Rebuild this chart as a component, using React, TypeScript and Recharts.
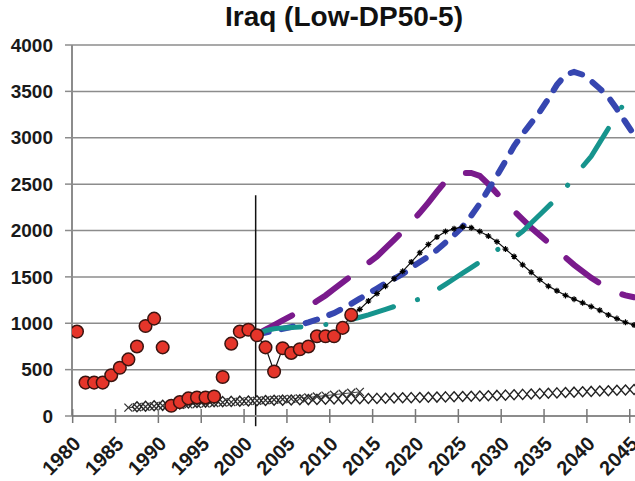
import React from 'react';
import { LineChart, Line, XAxis, YAxis, CartesianGrid, ReferenceLine } from 'recharts';

const years = [
  1980, 1981, 1982, 1983, 1984, 1985, 1986, 1987, 1988, 1989, 1990, 1991, 1992, 1993, 1994, 1995,
  1996, 1997, 1998, 1999, 2000, 2001, 2002, 2003, 2004, 2005, 2006, 2007, 2008, 2009, 2010, 2011,
  2012, 2013, 2014, 2015, 2016, 2017, 2018, 2019, 2020, 2021, 2022, 2023, 2024, 2025, 2026, 2027,
  2028, 2029, 2030, 2031, 2032, 2033, 2034, 2035, 2036, 2037, 2038, 2039, 2040, 2041, 2042, 2043,
  2044, 2045,
];
const xTicks = [1980, 1985, 1990, 1995, 2000, 2005, 2010, 2015, 2020, 2025, 2030, 2035, 2040, 2045];
const yTicks = [0, 500, 1000, 1500, 2000, 2500, 3000, 3500, 4000];

// red dots, 1980-2012
const actualStart = 1980;
const actual = [910, 360, 360, 360, 440, 520, 610, 750, 970, 1050, 740, 110, 150, 190, 200, 200, 210,
  420, 780, 910, 930, 870, 740, 480, 730, 680, 720, 750, 860, 860, 860, 950, 1090];

// black line with small markers, 2001-2045
const baseStart = 2001;
const base = [870, 740, 480, 730, 680, 720, 750, 860, 860, 860, 950, 1090,
  1150, 1240, 1320, 1400, 1480, 1560, 1660, 1760, 1850, 1930, 1990, 2020, 2040, 2030, 1990, 1940,
  1880, 1800, 1720, 1630, 1550, 1470, 1400, 1350, 1300, 1260, 1220, 1180, 1140, 1090, 1050, 1010, 980];

// blue short dash, 2001-2045
const blueStart = 2001;
const blue = [880, 900, 920, 940, 960, 985, 1010, 1040, 1075, 1110, 1160, 1210, 1265, 1320, 1375,
  1430, 1480, 1530, 1600, 1660, 1720, 1790, 1870, 1950, 2040, 2160, 2290, 2440, 2590, 2750, 2910,
  3040, 3160, 3280, 3420, 3570, 3680, 3710, 3680, 3610, 3530, 3440, 3310, 3170, 3030];

// purple long dash, 2001-2045
const purpleStart = 2001;
const purple = [880, 930, 980, 1030, 1080, 1130, 1180, 1240, 1300, 1370, 1440, 1510, 1580, 1650,
  1720, 1810, 1900, 1990, 2090, 2190, 2300, 2420, 2530, 2600, 2620, 2620, 2590, 2500, 2400, 2300,
  2210, 2120, 2030, 1950, 1870, 1790, 1710, 1630, 1560, 1490, 1430, 1380, 1330, 1300, 1280];

// teal dash-dot, 2001-2045
const tealStart = 2001;
const teal = [880, 920, 940, 950, 955, 960, 965, 975, 985, 1000, 1020, 1040, 1065, 1090, 1120, 1150,
  1180, 1210, 1240, 1260, 1300, 1360, 1420, 1480, 1540, 1600, 1660, 1720, 1790, 1850, 1920, 1990,
  2080, 2170, 2260, 2350, 2460, 2570, 2690, 2800, 2950, 3100, 3240, 3400, 3520];

// open diamonds, 1987-2045
const diamondStart = 1987;
const diamonds = [100, 105, 110, 115, 120, 130, 140, 145, 150, 155, 155, 158, 160, 162,
  165, 167, 169, 171, 173, 175, 177, 179, 181, 183, 185, 186, 187, 188, 190,
  192, 194, 196, 198, 200, 202, 204, 206, 208, 210, 213, 216, 219, 222, 225,
  229, 233, 237, 241, 245, 249, 253, 257, 261, 265, 269, 273, 277, 281, 285];

// crosses, 1986-2013
const crossStart = 1986;
const crosses = [90, 95, 100, 105, 110, 115, 120, 125, 130, 135, 140, 145, 150, 155, 160, 165, 170,
  175, 180, 185, 190, 200, 210, 220, 230, 240, 250, 260];

const markYear = 2000.85;
const markTop = 2380;

const pick = (arr: number[], start: number, year: number) => {
  const v = arr[year - start];
  return v === undefined ? null : v;
};

const data = years.map((year) => ({
  year,
  actual: pick(actual, actualStart, year),
  base: pick(base, baseStart, year),
  blue: pick(blue, blueStart, year),
  purple: pick(purple, purpleStart, year),
  teal: pick(teal, tealStart, year),
  diamonds: pick(diamonds, diamondStart, year),
  crosses: pick(crosses, crossStart, year),
}));

const FONT = '"Liberation Sans", Arial, sans-serif';

const XTick = (props: any) => {
  const { x, y, payload } = props;
  const tx = x + 5;
  const ty = y + 29;
  return (
    <g>
      <line x1={x - 4.3} x2={x - 4.3} y1={y - 7} y2={y + 7} stroke="#777" strokeWidth={1.5} />
      <text x={tx} y={ty} textAnchor="end" fontSize={20} fontWeight="bold" fill="#1a1a1a"
        fontFamily={FONT} transform={`rotate(-45, ${tx}, ${ty})`}>{payload.value}</text>
    </g>
  );
};

const Diamond = (props: any) => {
  const { cx, cy, index } = props;
  if (cx == null || cy == null) return <g key={index} />;
  return <polygon key={index} points={`${cx},${cy - 5} ${cx + 4.5},${cy} ${cx},${cy + 5} ${cx - 4.5},${cy}`}
    fill="#fff" stroke="#222" strokeWidth={1.4} />;
};

const Cross = (props: any) => {
  const { cx, cy, index } = props;
  if (cx == null || cy == null) return <g key={index} />;
  return <path key={index} d={`M${cx - 4},${cy - 4}L${cx + 4},${cy + 4}M${cx - 4},${cy + 4}L${cx + 4},${cy - 4}`}
    stroke="#333" strokeWidth={1.3} />;
};

const Star = (props: any) => {
  const { cx, cy, index } = props;
  if (cx == null || cy == null) return <g key={index} />;
  return <path key={index} d={`M${cx - 3},${cy}L${cx + 3},${cy}M${cx},${cy - 3}L${cx},${cy + 3}M${cx - 2},${cy - 2}L${cx + 2},${cy + 2}M${cx - 2},${cy + 2}L${cx + 2},${cy - 2}`}
    stroke="#000" strokeWidth={1.2} />;
};

export default function App() {
  return (
    <div style={{ position: 'absolute', left: 0, top: 0, width: 635, height: 481, background: '#fff', fontFamily: FONT }}>
      <div style={{ position: 'absolute', left: 0, width: 688, top: 1, textAlign: 'center', fontSize: 28, fontWeight: 'bold', color: '#111' }}>
        Iraq (Low-DP50-5)
      </div>
      <LineChart width={635} height={481} data={data} margin={{ top: 45, right: 0, bottom: 0, left: 0 }}>
        <CartesianGrid vertical={false} stroke="#8c8c8c" strokeWidth={1.5} />
        <XAxis dataKey="year" type="number" domain={[1979.42, 2045.11]} allowDataOverflow ticks={xTicks}
          height={65} tickLine={false} tickSize={0} tickMargin={0} axisLine={{ stroke: '#8c8c8c', strokeWidth: 2 }}
          tick={<XTick />} interval={0} />
        <YAxis type="number" domain={[0, 4000]} ticks={yTicks} width={72} tickSize={7} tickMargin={12}
          axisLine={{ stroke: '#8c8c8c', strokeWidth: 2 }} tickLine={{ stroke: '#8c8c8c', strokeWidth: 1.5 }}
          tick={{ fontSize: 19, fontWeight: 'bold', fill: '#1a1a1a', fontFamily: FONT }} interval={0} />
        <ReferenceLine segment={[{ x: markYear, y: -110 }, { x: markYear, y: markTop }]} ifOverflow="visible"
          stroke="#111" strokeWidth={1.5} />
        <Line dataKey="purple" stroke="#7a1a8c" strokeWidth={6} strokeDasharray="40 27" strokeLinecap="round"
          dot={false} isAnimationActive={false} />
        <Line dataKey="blue" stroke="#3646b0" strokeWidth={6} strokeDasharray="12 13" strokeLinecap="round"
          dot={false} isAnimationActive={false} />
        <Line dataKey="teal" stroke="#16948d" strokeWidth={5} strokeDasharray="45 25 0.1 25" strokeLinecap="round"
          dot={false} isAnimationActive={false} />
        <Line dataKey="base" stroke="#111" strokeWidth={1.2} dot={<Star />} isAnimationActive={false} />
        <Line dataKey="diamonds" stroke="#888" strokeWidth={1} dot={<Diamond />} isAnimationActive={false} />
        <Line dataKey="crosses" stroke="#444" strokeWidth={1} dot={<Cross />} isAnimationActive={false} />
        <Line dataKey="actual" stroke="none" dot={{ r: 6.3, fill: '#e5352a', stroke: '#3a1410', strokeWidth: 1.5 }}
          isAnimationActive={false} />
      </LineChart>
    </div>
  );
}
